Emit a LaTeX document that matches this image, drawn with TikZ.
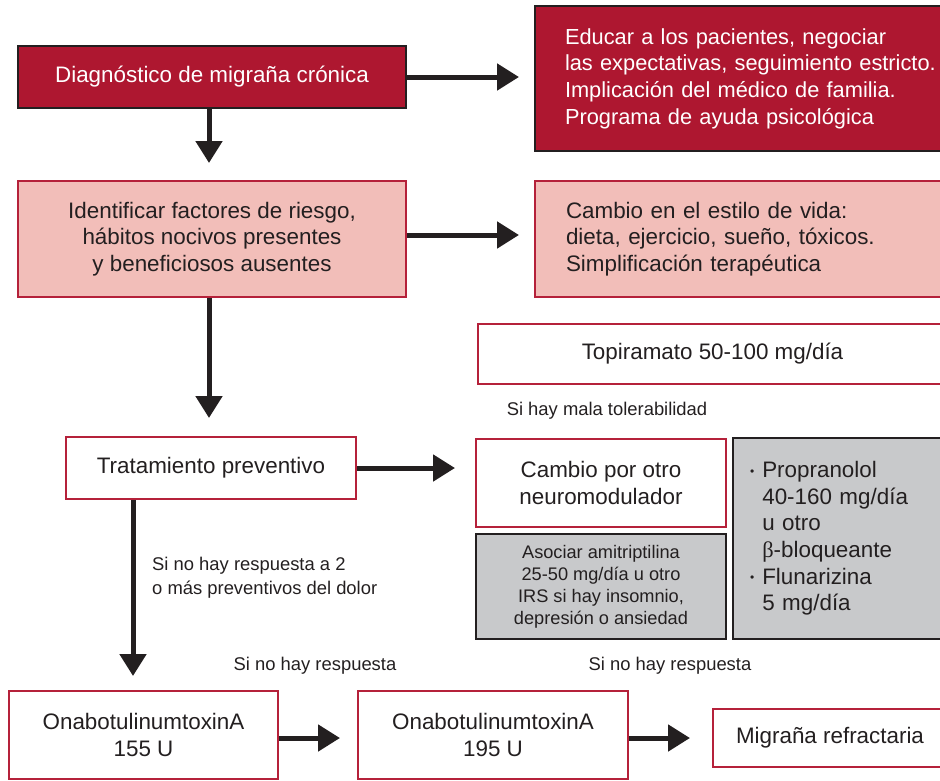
\documentclass[tikz,border=0pt]{standalone}
\usepackage{fontspec}
\setmainfont{Liberation Sans}
\newfontfamily\betafont{Liberation Serif}
\usetikzlibrary{arrows.meta}
\definecolor{dred}{HTML}{AE1730}
\definecolor{pinkf}{HTML}{F2BEB9}
\definecolor{redb}{HTML}{B5213A}
\definecolor{grayf}{HTML}{C8C9CB}
\definecolor{ink}{HTML}{231F20}
\newcommand{\bul}{\makebox[12.3pt][l]{\raisebox{2.5pt}{\fontsize{12}{12}\selectfont •}}}
\begin{document}
\begin{tikzpicture}[x=1pt,y=-1pt,
  box/.style={draw, line width=2pt, inner sep=0pt, text=ink, anchor=north west,
    font=\fontsize{22.4}{26.6}\selectfont, align=center},
  darkbox/.style={box, draw=ink, fill=dred, text=white},
  pinkbox/.style={box, draw=redb, fill=pinkf},
  whitebox/.style={box, draw=redb, fill=white},
  graybox/.style={box, draw=ink, fill=grayf},
  lbl/.style={font=\fontsize{18.4}{24}\selectfont, text=ink, inner sep=0pt},
  arr/.style={draw=ink, line width=5pt, -{Triangle[width=26pt,length=22pt]}}]
\path[use as bounding box] (0,0) rectangle (940,780);
\clip (0,0) rectangle (940,780);

\node[darkbox, minimum width=388pt, minimum height=62pt] (b1) at (17,45) {Diagnóstico de migraña crónica};
\node[darkbox, minimum width=412pt, minimum height=145pt, text width=400pt, inner xsep=30pt, align=left,
  font=\fontsize{21.8}{26.6}\selectfont] (b2) at (534,5)
  {Educar a los pacientes, negociar\\las expectativas, seguimiento estricto.\\Implicación del médico de familia.\\Programa de ayuda psicológica};

\node[pinkbox, minimum width=388pt, minimum height=116pt] (b3) at (17,180)
  {Identificar factores de riesgo,\\hábitos nocivos presentes\\y beneficiosos ausentes};
\node[pinkbox, minimum width=412pt, minimum height=116pt, text width=400pt, inner xsep=31pt, align=left] (b4) at (534,180)
  {Cambio en el estilo de vida:\\dieta, ejercicio, sueño, tóxicos.\\Simplificación terapéutica};

\node[whitebox, minimum width=469pt, minimum height=60pt] (b5) at (477,323) {Topiramato 50-100 mg/día};
\node[lbl] (l1) at (607,411) {Si hay mala tolerabilidad};

\node[whitebox, minimum width=290pt, minimum height=62pt] (b6) at (65,436) {Tratamiento preventivo};
\node[whitebox, minimum width=250pt, minimum height=88pt] (b7) at (475,438) {Cambio por otro\\neuromodulador};
\node[graybox, minimum width=250pt, minimum height=105pt, font=\fontsize{18.2}{22}\selectfont] (b8) at (475,533)
  {Asociar amitriptilina\\25-50 mg/día u otro\\IRS si hay insomnio,\\depresión o ansiedad};
\node[graybox, minimum width=214pt, minimum height=201pt, text width=180pt, inner xsep=17pt, align=left] (b9) at (732,437)
  {\bul Propranolol\\\hspace*{12.3pt}40-160 mg/día\\\hspace*{12.3pt}u otro\\\hspace*{12.3pt}{\betafont β}-bloqueante\\\bul Flunarizina\\\hspace*{12.3pt}5 mg/día};

\node[lbl, anchor=west, align=left] (l2) at (152,578) {Si no hay respuesta a 2\\o más preventivos del dolor};
\node[lbl] (l3) at (315,666) {Si no hay respuesta};
\node[lbl] (l4) at (670,666) {Si no hay respuesta};

\node[whitebox, minimum width=269pt, minimum height=88pt] (b10) at (8,690) {OnabotulinumtoxinA\\155 U};
\node[whitebox, minimum width=270pt, minimum height=88pt] (b11) at (357,690) {OnabotulinumtoxinA\\195 U};
\node[whitebox, minimum width=234pt, minimum height=58pt] (b12) at (712,708) {Migraña refractaria};

\draw[arr, shorten >=15pt] (b1.east) -- (b1.east -| b2.west);
\draw[arr, shorten >=17pt] ([xshift=-3pt]b1.south) -- ([xshift=-3pt]b1.south |- b3.north);
\draw[arr, shorten >=15pt] ([yshift=4pt]b3.east) -- ([yshift=4pt]b3.east -| b4.west);
\draw[arr, shorten >=18pt] ([xshift=-3pt]b3.south) -- ([xshift=-3pt]b3.south |- b6.north);
\draw[arr, shorten >=20pt] (b6.east) -- (b6.east -| b7.west);
\draw[arr, shorten >=14pt] ([xshift=68pt]b6.south west) -- ([xshift=68pt]b6.south west |- b10.north);
\draw[arr, shorten >=17pt] ([yshift=-3pt]b10.east) -- ([yshift=-3pt]b10.east -| b11.west);
\draw[arr, shorten >=22pt] ([yshift=-3pt]b11.east) -- ([yshift=-3pt]b11.east -| b12.west);
\end{tikzpicture}
\end{document}
